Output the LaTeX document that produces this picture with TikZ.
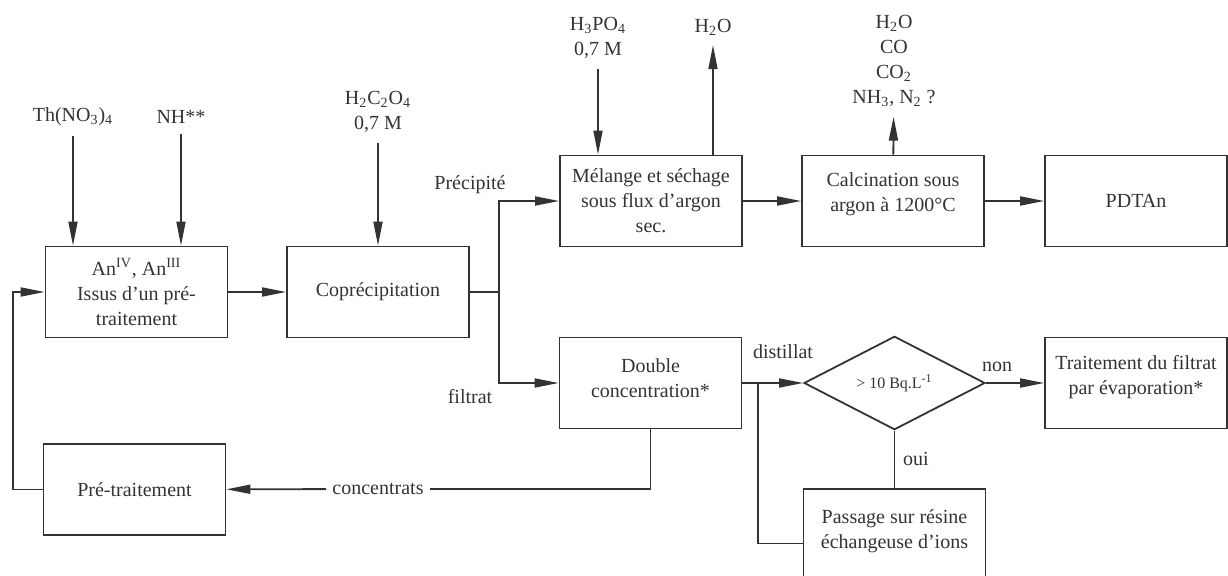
\documentclass[tikz,border=0pt]{standalone}
\usepackage{fontspec}
\setmainfont{Liberation Serif}
\usepackage{tikz}
\usetikzlibrary{shapes.geometric, arrows.meta, positioning, calc}

\begin{document}
\begin{tikzpicture}[
  x=0.5pt, y=-0.5pt,
  every node/.style={font=\fontsize{10}{12.5}\selectfont, text=black!80},
  box/.style={rectangle, draw=black!80, line width=0.9pt, minimum width=91pt, minimum height=45.5pt, align=center, inner sep=2pt},
  test/.style={diamond, draw=black!80, line width=0.9pt, minimum width=90.5pt, minimum height=45pt, inner sep=0pt, font=\fontsize{8}{9.6}\selectfont},
  lbl/.style={align=center, inner sep=2pt, outer sep=3pt},
  link/.style={draw=black!80, line width=0.9pt},
  flow/.style={link, -{Triangle[length=12pt, width=4.5pt]}},
]
  \useasboundingbox (0,0) rectangle (1228,576);

  \node[box] (AN) at (136.5,292) {An\textsuperscript{IV}, An\textsuperscript{III}\\Issus d’un pré-\\traitement};
  \node[box] (COP) at (378,292) {Coprécipitation};
  \node[box] (MEL) at (651,201) {Mélange et séchage\\sous flux d’argon\\sec.};
  \node[box, text depth=9pt] (CAL) at (893,201) {Calcination sous\\argon à 1200°C};
  \node[box] (PDT) at (1136,201) {PDTAn};
  \node[box, text depth=5pt] (DC) at (650.5,383) {Double\\concentration*};
  \node[test] (TEST) at (894.5,383) {> 10 Bq.L\textsuperscript{-1}};
  \node[box, text depth=8pt] (TF) at (1136,383) {Traitement du filtrat\\par évaporation*};
  \node[box, text depth=5pt] (PAS) at (894.5,534.5) {Passage sur résine\\échangeuse d’ions};
  \node[box] (PRE) at (134.5,489.5) {Pré-traitement};

  \node[lbl] (TH) at (73,117) {Th(NO\textsubscript{3})\textsubscript{4}};
  \node[lbl] (NH) at (181,117) {NH**};
  \node[lbl] (OX) at (378,112) {H\textsubscript{2}C\textsubscript{2}O\textsubscript{4}\\0,7 M};
  \node[lbl] (PH) at (598,38) {H\textsubscript{3}PO\textsubscript{4}\\0,7 M};
  \node[lbl] (EAU) at (713,27) {H\textsubscript{2}O};
  \node[lbl] (GAZ) at (894,61) {H\textsubscript{2}O\\CO\\CO\textsubscript{2}\\NH\textsubscript{3}, N\textsubscript{2} ?};

  \node[lbl] (PRECIP) at (470,185) {Précipité};
  \node[lbl] (FILT) at (470,397) {filtrat};
  \node[lbl] (DIST) at (783,352) {distillat};
  \node[lbl] (NON) at (997,367) {non};
  \node[lbl] (OUI) at (916,459) {oui};
  \node[inner sep=3pt] (CONC) at (378,489) {concentrats};

  \coordinate (J1) at (499,292);
  \coordinate (J2) at (758,383);

  \draw[flow] (TH) -- (TH |- AN.north);
  \draw[flow] (NH) -- (NH |- AN.north);
  \draw[flow] (OX) -- (COP);
  \draw[flow] (PH) -- (PH |- MEL.north);
  \draw[flow] (EAU |- MEL.north) -- (EAU);
  \draw[flow] (CAL) -- (GAZ);

  \draw[flow] (AN) -- (COP);
  \draw[link] (COP) -- (J1);
  \draw[flow] (J1) |- (MEL);
  \draw[flow] (J1) |- (DC);
  \draw[flow] (MEL) -- (CAL);
  \draw[flow] (CAL) -- (PDT);

  \draw[flow] (DC) -- (TEST);
  \draw[link] (J2) |- ($(PAS.west)+(0,9)$);
  \draw[flow] (TEST) -- (TF);
  \draw[link] (TEST) -- (PAS);

  \draw[link] (DC) |- (CONC);
  \draw[flow] (CONC) -- (PRE);
  \draw[flow] (PRE.west) -- ++(-30,0) |- (AN.west);
\end{tikzpicture}
\end{document}
